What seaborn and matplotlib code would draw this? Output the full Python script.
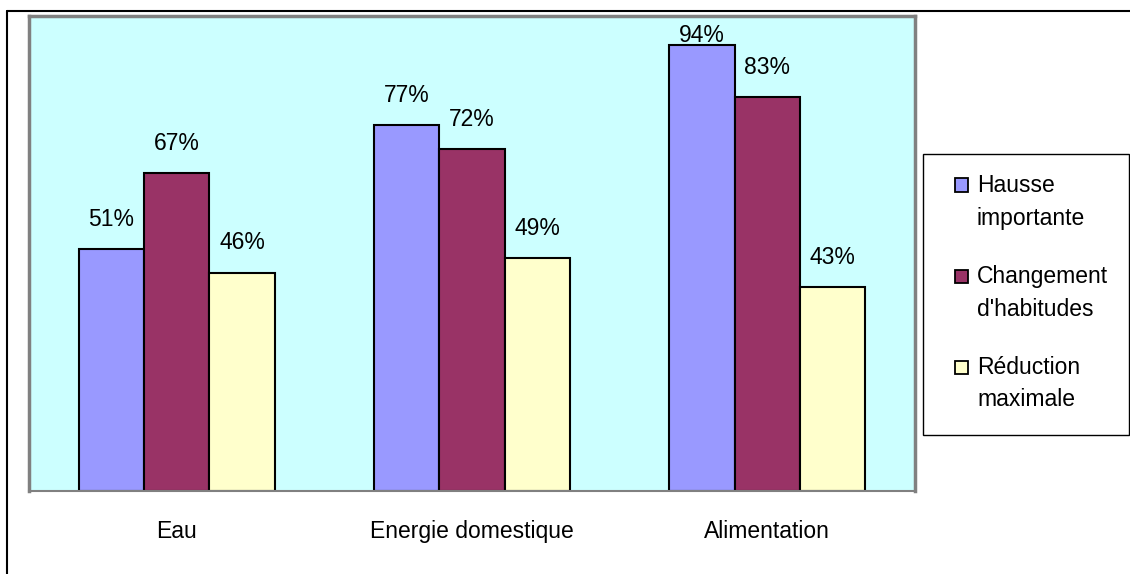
import matplotlib
matplotlib.use("Agg")
import matplotlib.pyplot as plt
import seaborn as sns
import pandas as pd
from matplotlib.patches import Rectangle
from matplotlib.lines import Line2D

categories = ["Eau", "Energie domestique", "Alimentation"]
series = ["Hausse\nimportante", "Changement\nd'habitudes", "Réduction\nmaximale"]
hausse = [51, 77, 94]
changement = [67, 72, 83]
reduction = [46, 49, 43]
colors = ["#9999FF", "#993366", "#FFFFCC"]

rows = []
for s, vals in zip(series, [hausse, changement, reduction]):
    for c, v in zip(categories, vals):
        rows.append({"cat": c, "serie": s, "val": v})
df = pd.DataFrame(rows)

sns.set_style("white")
plt.rcParams['font.family'] = ['Liberation Sans', 'DejaVu Sans']
plt.rcParams['text.color'] = 'black'
plt.rcParams['xtick.color'] = 'black'

W, H = 1130, 574
fig = plt.figure(figsize=(W/100, H/100), dpi=100)
ax = fig.add_axes([29/W, 1-491/H, (915-29)/W, (491-16)/H])
ax.set_facecolor("#CCFFFF")

sns.barplot(data=df, x="cat", y="val", hue="serie", palette=colors,
            width=0.664, gap=0, edgecolor="black", linewidth=1.5,
            saturation=1, legend=False, ax=ax)

ymax = 100
for cont in ax.containers:
    anns = ax.bar_label(cont, labels=[f"{int(v)}%" for v in cont.datavalues],
                        padding=13, fontsize=16.5, color="black")
    # like Excel: a label that would leave the plot area sits on the bar top
    for a, v in zip(anns, cont.datavalues):
        if v > ymax - 9:
            a.xyann = (0, -1.5)

ax.set_ylim(0, ymax)
ax.set_xlim(-0.5, 2.5)
ax.set_xlabel("")
ax.set_ylabel("")
ax.set_yticks([])
ax.tick_params(axis="x", which="major", length=0, pad=21, labelsize=16.5, labelcolor="black")
ax.set_xticks([-0.5, 0.5, 1.5, 2.5], minor=True)
ax.tick_params(axis="x", which="minor", length=7, width=1.2, color="#808080", direction="out")
for side in ["top", "left", "right"]:
    ax.spines[side].set_color("#808080")
    ax.spines[side].set_linewidth(2.5)
ax.spines["bottom"].set_color("#808080")
ax.spines["bottom"].set_linewidth(1.5)

# outer chart border (right/bottom edges fall outside the image)
fig.add_artist(Line2D([7/W, 1], [1-11/H, 1-11/H], color="black", lw=1.5))
fig.add_artist(Line2D([7/W, 7/W], [0, 1-11/H], color="black", lw=1.5))

# legend drawn by hand: box, squares on first line, two-line labels
fig.add_artist(Rectangle((923/W, 1-435/H), (1129-923)/W, (435-154)/H,
                         transform=fig.transFigure, facecolor="white",
                         edgecolor="black", lw=1))
for i, (lab, c) in enumerate(zip(series, colors)):
    y0 = 185 + i * 91
    fig.add_artist(Rectangle((955/W, 1-(y0+6.5)/H), 13/W, 13/H,
                             transform=fig.transFigure, facecolor=c,
                             edgecolor="black", lw=1.3))
    for j, line in enumerate(lab.split("\n")):
        fig.text(977/W, 1-(y0 + j*33)/H, line, fontsize=16.5,
                 va="center", ha="left", color="black")

fig.savefig("out.png", dpi=100)
